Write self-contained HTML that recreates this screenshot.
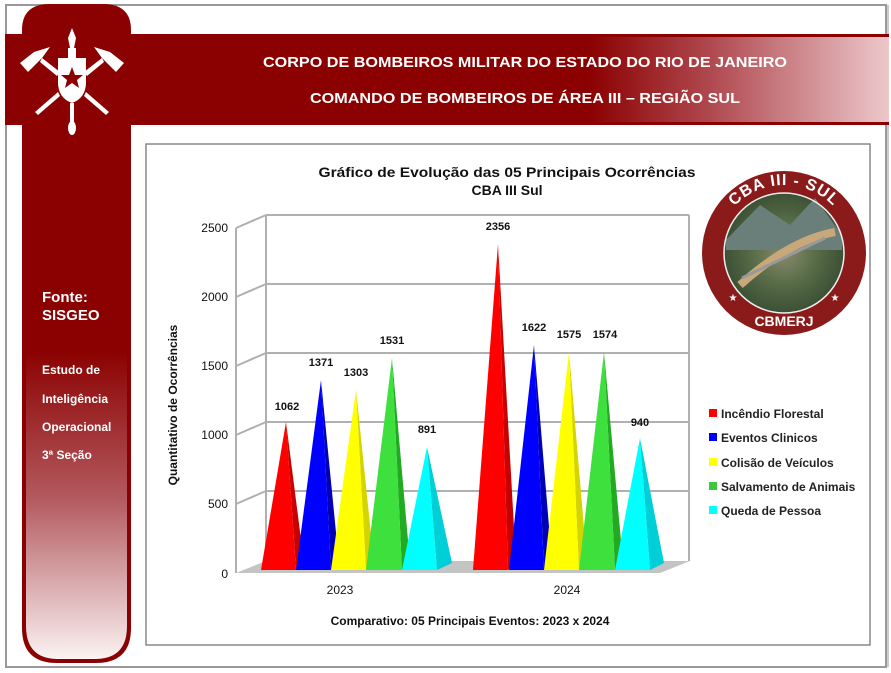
<!DOCTYPE html>
<html><head><meta charset="utf-8"><style>
html,body{margin:0;padding:0;background:#fff}
svg{display:block;font-family:"Liberation Sans",Arial,sans-serif}
</style></head><body>
<svg width="891" height="673" viewBox="0 0 891 673" xmlns="http://www.w3.org/2000/svg">
<defs>
<linearGradient id="hg" x1="0" x2="1" y1="0" y2="0">
<stop offset="0" stop-color="#8b0000"/><stop offset="0.66" stop-color="#8b0000"/><stop offset="0.8" stop-color="#b04a50"/><stop offset="1" stop-color="#ecc8cb"/></linearGradient>
<linearGradient id="cg" x1="0" x2="0" y1="0" y2="1">
<stop offset="0" stop-color="#8b0000"/><stop offset="0.42" stop-color="#8b0000"/><stop offset="0.7" stop-color="#b35a5f"/><stop offset="1" stop-color="#fbf2f2"/></linearGradient>
<radialGradient id="lg" cx="0.5" cy="0.5" r="0.5">
<stop offset="0" stop-color="#8a8a6a"/><stop offset="0.5" stop-color="#5a6e4a"/><stop offset="1" stop-color="#3c5035"/></radialGradient>
<path id="arcTop" d="M716,253 A68,68 0 0,1 852,253"/>
</defs>
<rect x="6" y="5" width="880" height="662" fill="#fff" stroke="#999" stroke-width="2"/>
<line x1="888" y1="5" x2="888" y2="667" stroke="#999" stroke-width="1"/>
<path d="M22,30 Q22,4 50,4 L103,4 Q131,4 131,30 L131,628 Q131,663 96,663 L57,663 Q22,663 22,628 Z" fill="#8b0000"/>
<path d="M26,125 L127,125 L127,626 Q127,659 95,659 L58,659 Q26,659 26,626 Z" fill="url(#cg)"/>
<rect x="5" y="34" width="884" height="91" fill="url(#hg)"/>
<rect x="5" y="34" width="884" height="3" fill="#8b0000"/>
<rect x="5" y="122" width="884" height="3" fill="#8b0000"/>
<rect x="22" y="37" width="109" height="85" fill="#8b0000"/>
<g fill="#fff">
<path d="M72,28 L76,38 L74,48 L70,48 L68,38 Z"/>
<rect x="68" y="48" width="8" height="10"/>
<path d="M58,58 L86,58 L86,82 Q86,98 72,103 Q58,98 58,82 Z"/>
<rect x="70" y="103" width="4" height="20"/>
<ellipse cx="72" cy="128" rx="4" ry="7"/>
<path d="M20,63 L34,52 L50,47 L42,58 L28,72 Z"/>
<path d="M124,63 L110,52 L94,47 L102,58 L116,72 Z"/>
<path d="M42,58 L60,72 L57,76 L40,62 Z"/>
<path d="M102,58 L84,72 L87,76 L104,62 Z"/>
<path d="M58,92 L35,112 L38,115 L60,96 Z"/>
<path d="M86,92 L109,112 L106,115 L84,96 Z"/>
</g>
<polygon points="72,67 75,75 83,75 77,80 79,88 72,83 65,88 67,80 61,75 69,75" fill="#8b0000"/>
<text x="525" y="67" font-size="15" font-weight="bold" fill="#fff" text-anchor="middle" textLength="524" lengthAdjust="spacingAndGlyphs">CORPO DE BOMBEIROS MILITAR DO ESTADO DO RIO DE JANEIRO</text>
<text x="525" y="103" font-size="15" font-weight="bold" fill="#fff" text-anchor="middle" textLength="430" lengthAdjust="spacingAndGlyphs">COMANDO DE BOMBEIROS DE ÁREA III – REGIÃO SUL</text>
<text x="42" y="302" font-size="15" font-weight="bold" fill="#fff">Fonte:</text>
<text x="42" y="320" font-size="15" font-weight="bold" fill="#fff">SISGEO</text>
<text x="42" y="374" font-size="12" font-weight="bold" fill="#fff">Estudo de</text>
<text x="42" y="403" font-size="12" font-weight="bold" fill="#fff">Inteligência</text>
<text x="42" y="431" font-size="12" font-weight="bold" fill="#fff">Operacional</text>
<text x="42" y="459" font-size="12" font-weight="bold" fill="#fff">3ª Seção</text>
<rect x="146" y="144" width="724" height="501" fill="#fff" stroke="#777" stroke-width="1.3"/>
<text x="507" y="177" font-size="14" font-weight="bold" fill="#111" text-anchor="middle" textLength="377" lengthAdjust="spacingAndGlyphs">Gráfico de Evolução das 05 Principais Ocorrências</text>
<text x="507" y="195" font-size="14" font-weight="bold" fill="#111" text-anchor="middle">CBA III Sul</text>
<g stroke="#b0b0b0" stroke-width="2" fill="none">
<line x1="266" y1="215" x2="689" y2="215"/>
<line x1="266" y1="284" x2="689" y2="284"/>
<line x1="266" y1="353" x2="689" y2="353"/>
<line x1="266" y1="422" x2="689" y2="422"/>
<line x1="266" y1="491" x2="689" y2="491"/>
<line x1="266" y1="215" x2="266" y2="561"/>
<line x1="689" y1="215" x2="689" y2="561"/>
<line x1="236" y1="228" x2="266" y2="215"/>
<line x1="236" y1="297" x2="266" y2="284"/>
<line x1="236" y1="366" x2="266" y2="353"/>
<line x1="236" y1="435" x2="266" y2="422"/>
<line x1="236" y1="504" x2="266" y2="491"/>
<line x1="236" y1="228" x2="236" y2="573"/>
</g>
<polygon points="236,573 660,573 690,561 266,561" fill="#c4c4c4"/>
<g font-size="12" fill="#111" text-anchor="end">
<text x="228" y="232">2500</text><text x="228" y="301">2000</text><text x="228" y="370">1500</text>
<text x="228" y="439">1000</text><text x="228" y="508">500</text><text x="228" y="578">0</text>
</g>
<text transform="translate(177,405) rotate(-90)" font-size="12" font-weight="bold" fill="#111" text-anchor="middle">Quantitativo de Ocorrências</text>
<g>
<polygon points="296,570 304,563 286,422" fill="#c80000"/><polygon points="261,570 296,570 286,422" fill="#ff0000"/>
<polygon points="331,570 339,563 321,380" fill="#0000b8"/><polygon points="296,570 331,570 321,380" fill="#0000ff"/>
<polygon points="366,570 374,563 356,390" fill="#d4d400"/><polygon points="331,570 366,570 356,390" fill="#ffff00"/>
<polygon points="402,570 410,563 392,358" fill="#22aa22"/><polygon points="366,570 402,570 392,358" fill="#3de03d"/>
<polygon points="437,570 452,563 427,447" fill="#00cfd8"/><polygon points="402,570 437,570 427,447" fill="#00ffff"/>
<polygon points="508,570 516,563 498,244" fill="#c80000"/><polygon points="473,570 508,570 498,244" fill="#ff0000"/>
<polygon points="544,570 552,563 534,345" fill="#0000b8"/><polygon points="509,570 544,570 534,345" fill="#0000ff"/>
<polygon points="579,570 587,563 569,352" fill="#d4d400"/><polygon points="544,570 579,570 569,352" fill="#ffff00"/>
<polygon points="615,570 623,563 604,352" fill="#22aa22"/><polygon points="579,570 615,570 604,352" fill="#3de03d"/>
<polygon points="650,570 664,563 640,438" fill="#00cfd8"/><polygon points="615,570 650,570 640,438" fill="#00ffff"/>
</g>
<g font-size="11" font-weight="bold" fill="#111" text-anchor="middle">
<text x="287" y="410">1062</text><text x="321" y="366">1371</text><text x="356" y="376">1303</text>
<text x="392" y="344">1531</text><text x="427" y="433">891</text>
<text x="498" y="230">2356</text><text x="534" y="331">1622</text><text x="569" y="338">1575</text>
<text x="605" y="338">1574</text><text x="640" y="426">940</text>
</g>
<text x="340" y="594" font-size="12" fill="#111" text-anchor="middle">2023</text>
<text x="567" y="594" font-size="12" fill="#111" text-anchor="middle">2024</text>
<text x="470" y="625" font-size="12" font-weight="bold" fill="#111" text-anchor="middle">Comparativo: 05 Principais Eventos: 2023 x 2024</text>
<g font-size="12" font-weight="bold" fill="#222">
<rect x="709" y="409" width="8" height="8" fill="#ff0000"/><text x="721" y="418">Incêndio Florestal</text>
<rect x="709" y="433" width="8" height="8" fill="#0000ff"/><text x="721" y="442">Eventos Clinicos</text>
<rect x="709" y="458" width="8" height="8" fill="#ffff00"/><text x="721" y="467">Colisão de Veículos</text>
<rect x="709" y="482" width="8" height="8" fill="#3cc83c"/><text x="721" y="491">Salvamento de Animais</text>
<rect x="709" y="506" width="8" height="8" fill="#00ffff"/><text x="721" y="515">Queda de Pessoa</text>
</g>
<circle cx="784" cy="253" r="82" fill="#8b1a1a"/>
<circle cx="784" cy="253" r="60" fill="url(#lg)"/>
<path d="M726,240 L760,205 L790,225 L815,198 L842,235 L842,250 L726,250 Z" fill="#6b7f7a"/>
<path d="M740,285 Q790,240 835,232" stroke="#c8a878" stroke-width="8" fill="none"/>
<path d="M742,278 L825,238" stroke="#999" stroke-width="3"/>
<circle cx="784" cy="253" r="60" fill="none" stroke="#eee" stroke-width="1.5"/>
<text font-size="16" font-weight="bold" fill="#fff" letter-spacing="1"><textPath href="#arcTop" startOffset="50%" text-anchor="middle">CBA III - SUL</textPath></text>
<text x="784" y="326" font-size="14" font-weight="bold" fill="#fff" text-anchor="middle">CBMERJ</text>
<text x="733" y="301" font-size="10" fill="#fff" text-anchor="middle">★</text>
<text x="835" y="301" font-size="10" fill="#fff" text-anchor="middle">★</text>
</svg>
</body></html>
